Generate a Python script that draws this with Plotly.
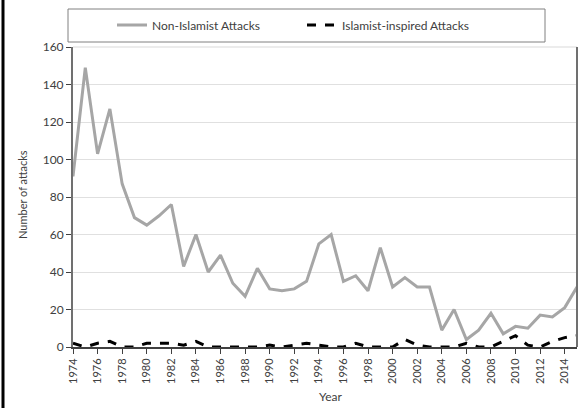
import plotly.graph_objects as go

years = list(range(1974, 2016))
non_islamist = [91, 149, 103, 127, 87, 69, 65, 70, 76, 43, 60, 40, 49, 34, 27, 42, 31, 30, 31, 35,
                55, 60, 35, 38, 30, 53, 32, 37, 32, 32, 9, 20, 4, 9, 18, 7, 11, 10, 17, 16, 21, 32]
islamist = [2, 0, 2, 3, 0, 0, 2, 2, 2, 1, 3, 0, 0, 0, 0, 0, 1, 0, 1, 2,
            1, 0, 0, 2, 0, 0, 0, 4, 1, 0, 0, 0, 2, 0, 0, 3, 6, 1, 0, 3, 5, 6]
tick_years = list(range(1974, 2015, 2))
y_ticks = [0, 20, 40, 60, 80, 100, 120, 140, 160]

W, H = 583, 408
L, R, T, B = 73, 6, 47, 61
pw, ph = W - L - R, H - T - B

def px(x):
    return (x - L) / pw

def py(y):
    return (H - B - y) / ph

font_family = "Lato, 'Open Sans', sans-serif"
fig = go.Figure()
fig.add_trace(go.Scatter(x=years, y=non_islamist, mode="lines", name="Non-Islamist Attacks",
                         line=dict(color="#a6a6a6", width=3)))
fig.add_trace(go.Scatter(x=years, y=islamist, mode="lines", name="Islamist-inspired Attacks",
                         line=dict(color="#000000", width=3, dash="dash")))

fig.update_layout(
    width=W, height=H,
    margin=dict(l=L, r=R, t=T, b=B),
    paper_bgcolor="white", plot_bgcolor="white",
    font=dict(family=font_family, color="#404040", size=11),
    showlegend=True,
    legend=dict(orientation="h", x=px(112), xanchor="left", y=py(25), yanchor="middle",
                bgcolor="rgba(0,0,0,0)", borderwidth=0, font=dict(size=12, color="#404040"),
                itemwidth=30, entrywidth=145, tracegroupgap=0),
    xaxis=dict(range=[1974, 2015], tickmode="array", tickvals=tick_years,
               ticktext=[str(y) for y in tick_years], tickangle=-90,
               showgrid=False, zeroline=False, showline=True, linecolor="#404040", linewidth=2,
               ticks="outside", ticklen=5, tickcolor="#404040", tickwidth=1,
               tickfont=dict(size=11, color="#404040")),
    yaxis=dict(range=[0, 160], tickmode="array", tickvals=y_ticks,
               showgrid=True, gridcolor="#e0e0e0", gridwidth=1, zeroline=False,
               showline=True, linecolor="#707070", linewidth=2,
               ticks="outside", ticklen=5, tickcolor="#404040", tickwidth=1,
               tickfont=dict(size=12, color="#404040")),
    shapes=[
        dict(type="rect", xref="paper", yref="paper", x0=px(68), x1=px(545), y0=py(42), y1=py(9),
             line=dict(color="#808080", width=1), fillcolor="rgba(0,0,0,0)", layer="below"),
        dict(type="line", xref="paper", yref="paper", x0=0, x1=1, y0=1, y1=1,
             line=dict(color="#d9d9d9", width=1)),
        dict(type="line", xref="paper", yref="paper", x0=1, x1=1, y0=0, y1=1,
             line=dict(color="#707070", width=2)),
        dict(type="line", xref="paper", yref="paper", x0=px(3), x1=px(3), y0=py(0), y1=py(H),
             line=dict(color="#000000", width=3)),
    ],
    annotations=[
        dict(text="Number of attacks", xref="paper", yref="paper", x=px(22), y=py(195),
             textangle=-90, showarrow=False, font=dict(size=11, color="#404040"),
             xanchor="center", yanchor="middle"),
        dict(text="Year", xref="paper", yref="paper", x=px(330), y=py(396),
             showarrow=False, font=dict(size=12, color="#404040"),
             xanchor="center", yanchor="middle"),
    ],
)

fig.write_html("out.html", config={"displayModeBar": False},
               post_script="document.body.style.margin='0';document.body.style.overflow='hidden';")
